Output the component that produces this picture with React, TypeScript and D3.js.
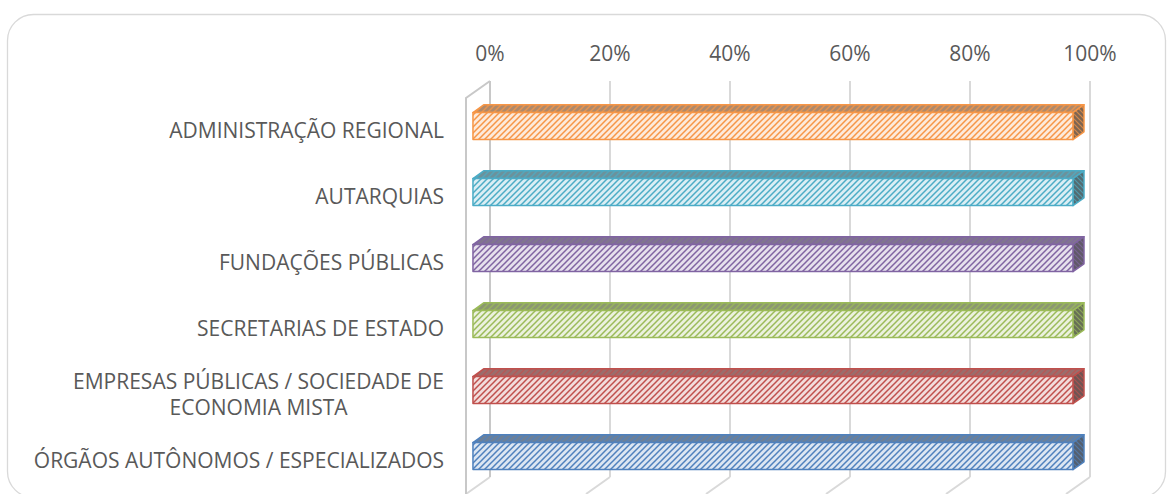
import React from "react";
import * as d3 from "d3";

const categories: string[][] = [
  ["ADMINISTRAÇÃO REGIONAL"],
  ["AUTARQUIAS"],
  ["FUNDAÇÕES PÚBLICAS"],
  ["SECRETARIAS DE ESTADO"],
  ["EMPRESAS PÚBLICAS / SOCIEDADE DE", "ECONOMIA MISTA"],
  ["ÓRGÃOS AUTÔNOMOS / ESPECIALIZADOS"],
];
const values: number[] = [1, 1, 1, 1, 1, 1];
const colors: string[] = ["#F79646", "#4BACC6", "#8064A2", "#9BBB59", "#C0504D", "#4F81BD"];
const ticks: number[] = [0, 0.2, 0.4, 0.6, 0.8, 1];

const W = 1169;
const H = 494;
const BACK = { x0: 490, x1: 1090, y0: 81, y1: 477 };
const D = { x: -24, y: 17 }; // back -> front depth vector
const TF = 0.71;
const TB = 0.25;
const FONT_SIZE = 21;
const FONT = "'Open Sans', sans-serif";
const TEXT = "#595959";
const GRID = "#D9D9D9";

let ctx: CanvasRenderingContext2D | null = null;
function measure(s: string): number {
  if (!ctx) ctx = document.createElement("canvas").getContext("2d");
  if (!ctx) return s.length * FONT_SIZE * 0.6;
  ctx.font = `${FONT_SIZE}px 'Open Sans'`;
  return ctx.measureText(s).width;
}

export default function App() {
  const x = d3.scaleLinear().domain([0, 1]).range([BACK.x0, BACK.x1]);
  const y = d3
    .scaleBand<number>()
    .domain(categories.map((_, i) => i))
    .range([BACK.y0, BACK.y1])
    .paddingInner(0.59)
    .paddingOuter(0.295);
  const bw = y.bandwidth();
  const pct = d3.format(".0%");

  const pt = (px: number, py: number, t: number) => `${px + t * D.x},${py + t * D.y}`;

  return (
    <svg
      width={W}
      height={H}
      style={{ position: "absolute", left: 0, top: 0, background: "#fff" }}
    >
      <defs>
        {colors.map((c, i) => {
          const tint = d3.interpolateRgb(c, "#ffffff")(0.8);
          const topBg = d3.interpolateRgb(c, "#808080")(0.6);
          const sideBg = d3.interpolateRgb(c, "#555555")(0.75);
          return (
            <React.Fragment key={i}>
              <pattern id={`pf${i}`} patternUnits="userSpaceOnUse" width={6} height={6}>
                <rect width={6} height={6} fill={tint} />
                <path d="M-1,7 L7,-1 M-1,1 L1,-1 M5,7 L7,5" stroke={c} strokeWidth={1.5} />
              </pattern>
              <pattern id={`pt${i}`} patternUnits="userSpaceOnUse" width={6} height={6}>
                <rect width={6} height={6} fill={topBg} />
                <path d="M-1,7 L7,-1 M-1,1 L1,-1 M5,7 L7,5" stroke={c} strokeWidth={1.4} opacity={0.8} />
              </pattern>
              <pattern id={`ps${i}`} patternUnits="userSpaceOnUse" width={5} height={5}>
                <rect width={5} height={5} fill={sideBg} />
                <path d="M-1,-1 L6,6 M4,-1 L6,1 M-1,4 L1,6" stroke={c} strokeWidth={1.2} opacity={0.7} />
              </pattern>
            </React.Fragment>
          );
        })}
      </defs>

      <rect x={7.5} y={14.5} width={1158} height={483} rx={26} ry={26} fill="#fff" stroke="#D9D9D9" strokeWidth={1.3} />

      {/* walls / grid */}
      <g stroke={GRID} strokeWidth={2} fill="none">
        {ticks.map((t) => (
          <line key={`g${t}`} x1={x(t)} x2={x(t)} y1={BACK.y0} y2={BACK.y1} />
        ))}
        {ticks.map((t) => (
          <line key={`f${t}`} x1={x(t)} y1={BACK.y1} x2={x(t) + D.x} y2={BACK.y1 + D.y} />
        ))}
        <path
          d={`M${x(0)},${BACK.y0} L${x(0) + D.x},${BACK.y0 + D.y} L${x(0) + D.x},${BACK.y1 + D.y}`}
          stroke="#C8C8C8"
        />
        <line x1={x(0)} x2={x(0)} y1={BACK.y0} y2={BACK.y1} stroke="#C8C8C8" />
      </g>

      {/* tick labels */}
      {ticks.map((t) => (
        <text
          key={`t${t}`}
          x={x(t)}
          y={61}
          textAnchor="middle"
          fontFamily={FONT}
          fontSize={FONT_SIZE}
          fill={TEXT}
        >
          {pct(t)}
        </text>
      ))}

      {/* bars */}
      {values.map((v, i) => {
        const c = colors[i];
        const x0 = x(0);
        const x1 = x(v);
        const yt = y(i)!;
        const yb = yt + bw;
        const front = `${pt(x0, yt, TF)} ${pt(x1, yt, TF)} ${pt(x1, yb, TF)} ${pt(x0, yb, TF)}`;
        const top = `${pt(x0, yt, TF)} ${pt(x1, yt, TF)} ${pt(x1, yt, TB)} ${pt(x0, yt, TB)}`;
        const side = `${pt(x1, yt, TF)} ${pt(x1, yt, TB)} ${pt(x1, yb, TB)} ${pt(x1, yb, TF)}`;
        return (
          <g key={`b${i}`} stroke={c} strokeWidth={1.5} strokeLinejoin="round">
            <polygon points={top} fill={`url(#pt${i})`} />
            <polygon points={side} fill={`url(#ps${i})`} />
            <polygon points={front} fill={`url(#pf${i})`} />
          </g>
        );
      })}

      {/* category labels */}
      {categories.map((lines, i) => {
        const cy = y(i)! + bw / 2 + D.y;
        const lh = 26;
        const start = cy - ((lines.length - 1) * lh) / 2;
        const blockW = Math.max(...lines.map(measure));
        const cx = 444 - blockW / 2;
        return (
          <text
            key={`c${i}`}
            textAnchor="middle"
            fontFamily={FONT}
            fontSize={FONT_SIZE}
            fill={TEXT}
          >
            {lines.map((l, j) => (
              <tspan key={j} x={cx} y={start + j * lh} dy="0.35em">
                {l}
              </tspan>
            ))}
          </text>
        );
      })}
    </svg>
  );
}
